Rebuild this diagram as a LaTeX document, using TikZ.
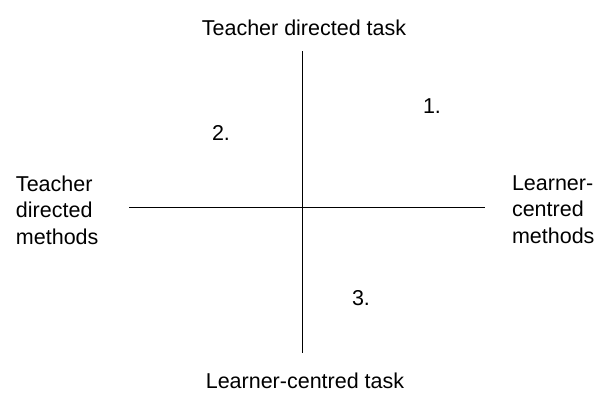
\documentclass[tikz,border=0pt]{standalone}
\usepackage{fontspec}
\setmainfont{Liberation Sans}
\begin{document}
\begin{tikzpicture}[x=1pt,y=-1pt,
  lbl/.style={inner sep=0pt,outer sep=0pt,font=\fontsize{21.5}{26.5}\selectfont},
  axis/.style={draw=black,line width=1pt}]
\useasboundingbox (0,0) rectangle (594,392);
% axes end points
\coordinate (top) at (302,51);
\coordinate (bot) at (302,353);
\coordinate (lft) at (129,207);
\coordinate (rgt) at (485,207);
\draw[axis] (top) -- (bot);
\draw[axis] (lft) -- (rgt);
% labels
\node[lbl,anchor=base] (tt) at (304,35) {Teacher directed task};
\node[lbl,anchor=base] (bt) at (305,388.5) {Learner-centred task};
\node[lbl,anchor=north west,align=left] (lm) at (16,175.5) {Teacher\\directed\\methods};
\node[lbl,anchor=north west,align=left] (rm) at (512,175.5) {Learner-\\centred\\methods};
\node[lbl,anchor=base west] (n1) at (423,113) {1.};
\node[lbl,anchor=base west] (n2) at (212,140) {2.};
\node[lbl,anchor=base west] (n3) at (352,305) {3.};
\end{tikzpicture}
\end{document}
